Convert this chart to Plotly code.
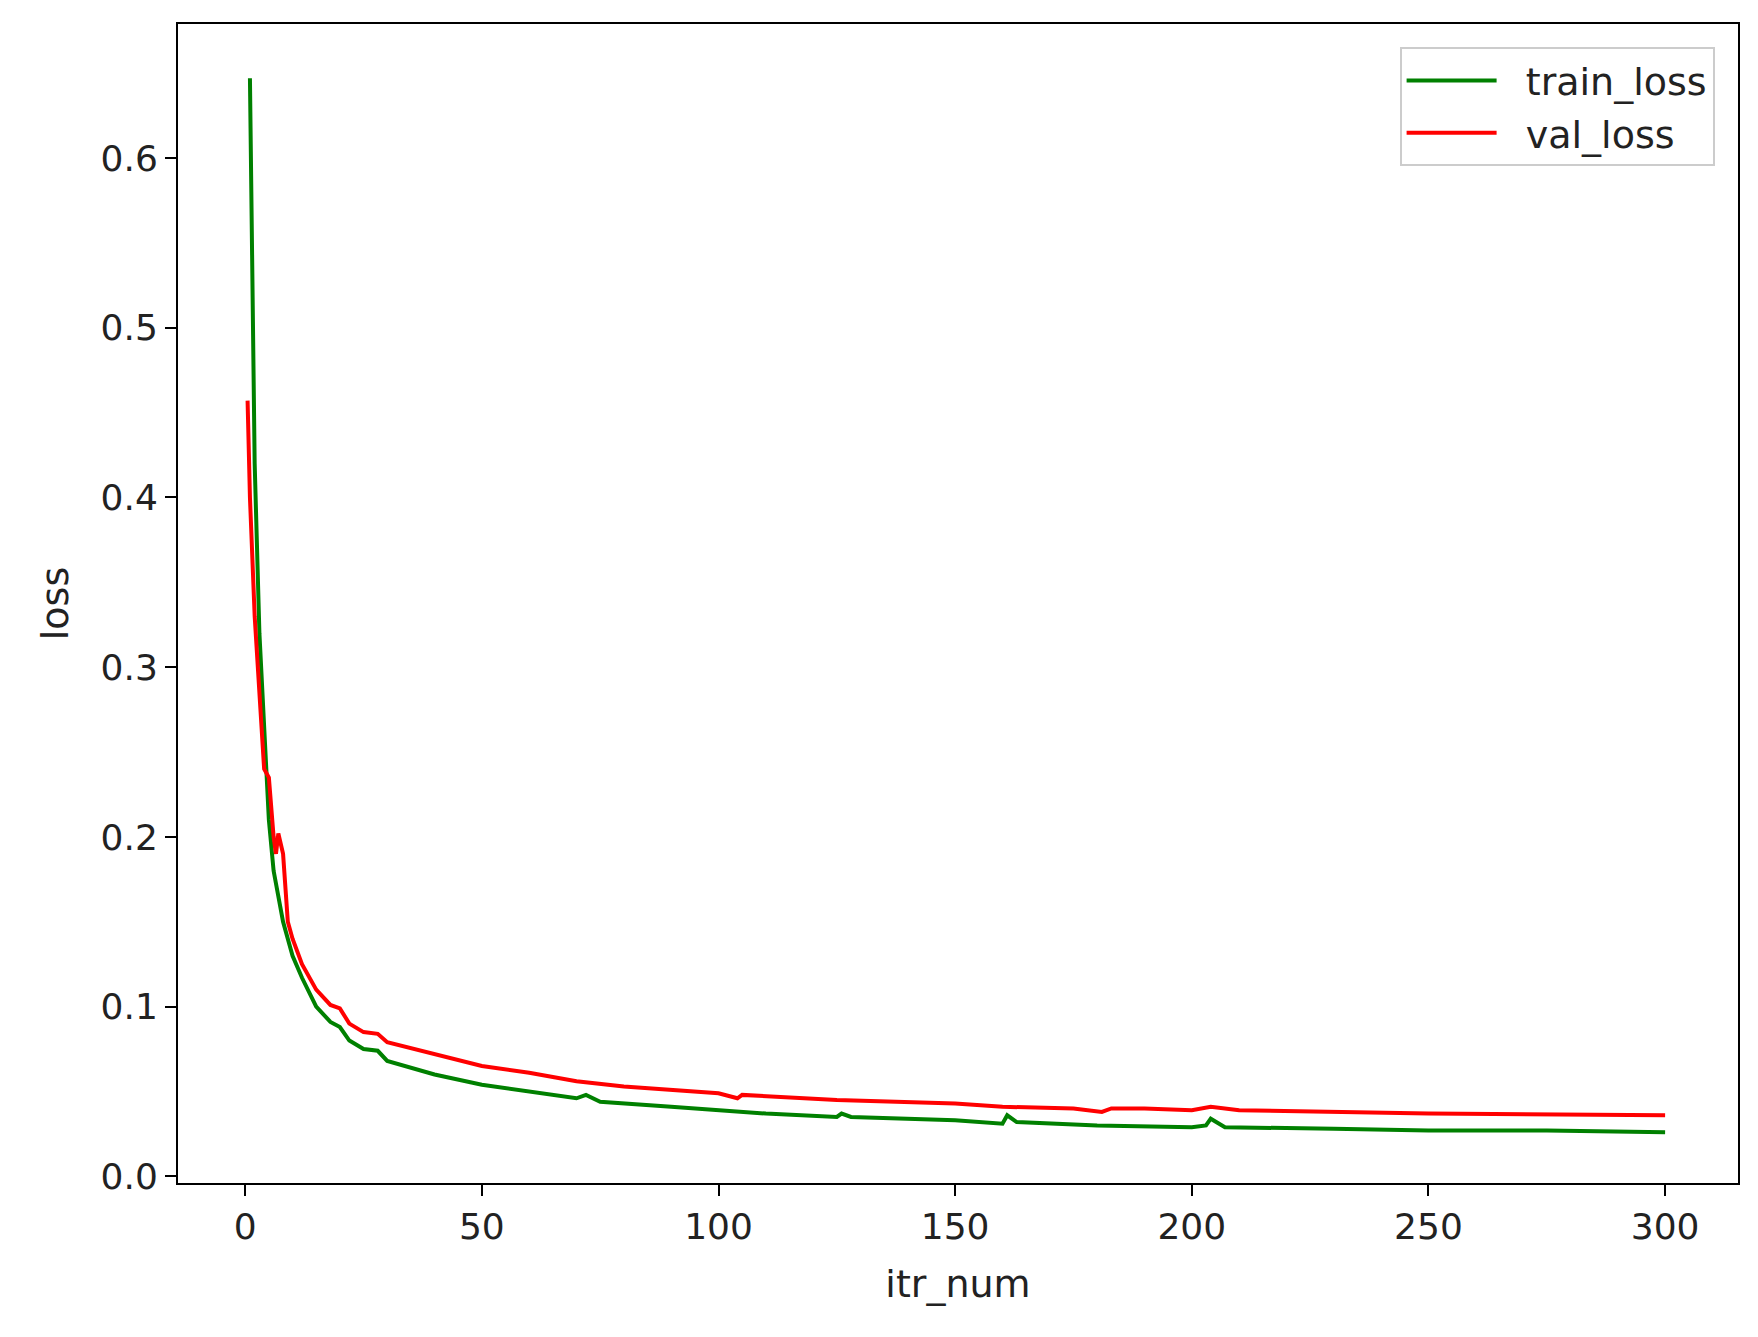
import plotly.graph_objects as go

train_x = [1, 2, 3, 4, 5, 6, 8, 10, 12, 15, 18, 20, 22, 25, 28, 30, 35, 40, 50, 60, 70, 72, 75, 90, 100, 110, 125, 126, 128, 140, 150, 160, 161, 163, 180, 200, 203, 204, 207, 230, 250, 275, 300]
train_y = [0.647, 0.42, 0.32, 0.26, 0.21, 0.18, 0.15, 0.13, 0.117, 0.10, 0.091, 0.088, 0.080, 0.075, 0.074, 0.068, 0.064, 0.060, 0.054, 0.050, 0.046, 0.048, 0.044, 0.041, 0.039, 0.037, 0.035, 0.037, 0.035, 0.034, 0.033, 0.031, 0.036, 0.032, 0.030, 0.029, 0.030, 0.034, 0.029, 0.028, 0.027, 0.027, 0.026]

val_x = [0.5, 1, 2, 3, 4, 5, 6, 6.5, 7, 8, 9, 10, 12, 15, 18, 20, 22, 25, 28, 30, 40, 50, 60, 70, 80, 100, 104, 105, 125, 150, 160, 175, 181, 183, 190, 200, 204, 210, 250, 300]
val_y = [0.457, 0.40, 0.33, 0.28, 0.24, 0.235, 0.20, 0.19, 0.202, 0.19, 0.15, 0.14, 0.125, 0.11, 0.101, 0.099, 0.090, 0.085, 0.084, 0.079, 0.072, 0.065, 0.061, 0.056, 0.053, 0.049, 0.046, 0.048, 0.045, 0.043, 0.041, 0.040, 0.038, 0.040, 0.040, 0.039, 0.041, 0.039, 0.037, 0.036]

x_ticks = [0, 50, 100, 150, 200, 250, 300]
y_ticks = [0.0, 0.1, 0.2, 0.3, 0.4, 0.5, 0.6]

fig = go.Figure()
fig.add_trace(go.Scatter(x=train_x, y=train_y, mode="lines", name="  train_loss",
                         line=dict(color="green", width=4)))
fig.add_trace(go.Scatter(x=val_x, y=val_y, mode="lines", name="  val_loss",
                         line=dict(color="red", width=4)))

axis_common = dict(showgrid=False, zeroline=False, showline=True, linecolor="black",
                   linewidth=2, mirror=True, ticks="outside", ticklen=11, tickwidth=2,
                   tickcolor="black", tickfont=dict(size=36, color="#222"))
fig.update_xaxes(range=[-14.2, 315.4], tickvals=x_ticks,
                 title=dict(text="itr_num", font=dict(size=38, color="#222"), standoff=24),
                 **axis_common)
fig.update_yaxes(range=[-0.0039, 0.6789], tickvals=y_ticks, ticktext=[f"{v:.1f}" for v in y_ticks],
                 title=dict(text="loss", font=dict(size=38, color="#222"), standoff=20),
                 **axis_common)
fig.update_layout(
    width=1758, height=1337,
    margin=dict(l=170, r=28, t=16, b=162),
    paper_bgcolor="white", plot_bgcolor="white",
    font=dict(family="DejaVu Sans"),
    legend=dict(x=0.985, y=0.98, xanchor="right", yanchor="top",
                bgcolor="rgba(255,255,255,0.8)", bordercolor="#ccc", borderwidth=2,
                font=dict(size=38, color="#222"), itemwidth=90, tracegroupgap=10),
)
fig.write_html("out.html")
